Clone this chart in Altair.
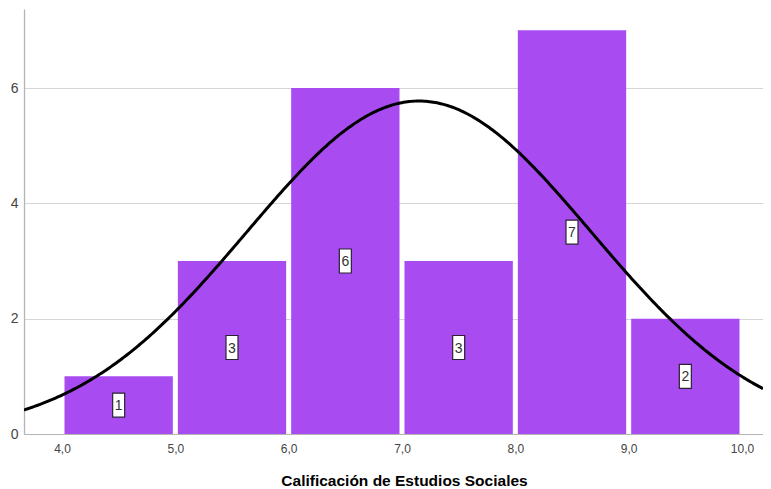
import altair as alt
import pandas as pd
import numpy as np

# Histogram bins and counts
bin_start = [4.0, 5.0, 6.0, 7.0, 8.0, 9.0]
bin_end = [5.0, 6.0, 7.0, 8.0, 9.0, 10.0]
counts = [1, 3, 6, 3, 7, 2]

# Axis tick values
x_ticks = [4, 5, 6, 7, 8, 9, 10]
y_ticks = [0, 2, 4, 6]

# Fitted normal curve parameters
n_total = 22
bin_width = 1.0
curve_mean = 7.15
curve_sd = 1.52

x_min, x_max = 3.6647, 10.1853
y_max = 7.37

bars_df = pd.DataFrame({
    "start": bin_start,
    "end": bin_end,
    "count": counts,
})
bars_df["mid"] = (bars_df["start"] + bars_df["end"]) / 2
bars_df["half"] = bars_df["count"] / 2
bars_df["label"] = bars_df["count"].astype(str)

xs = np.linspace(x_min, x_max, 400)
ys = n_total * bin_width / (curve_sd * np.sqrt(2 * np.pi)) * np.exp(-0.5 * ((xs - curve_mean) / curve_sd) ** 2)
curve_df = pd.DataFrame({"x": xs, "y": ys})

xscale = alt.Scale(domain=[x_min, x_max], nice=False, zero=False)
yscale = alt.Scale(domain=[0, y_max], nice=False, zero=True)

x_axis = alt.Axis(
    values=x_ticks,
    labelExpr="replace(format(datum.value, '.1f'), '.', ',')",
    ticks=False, tickSize=0, grid=False,
    labelFont="Liberation Sans", labelFontSize=12, labelColor="#444444",
    labelPadding=9,
    domainColor="#b5b5b5", domainWidth=1,
    title="Calificación de Estudios Sociales",
    titleFont="Liberation Sans", titleFontSize=15.5, titleFontWeight="bold",
    titleColor="#000000", titleAlign="center", titleBaseline="alphabetic",
    titleX=380, titleY=51,
)
y_axis = alt.Axis(
    values=y_ticks,
    labelExpr="format(datum.value, 'd')",
    ticks=False, tickSize=0,
    grid=True, gridColor="#d6d6d6", gridWidth=1,
    labelFont="Liberation Sans", labelFontSize=14, labelColor="#444444",
    labelPadding=6,
    domainColor="#b5b5b5", domainWidth=1.3,
    title=None,
)

base = alt.Chart(bars_df)

bars = base.mark_bar(color="#a84cf2", xOffset=2.5, x2Offset=-2.5).encode(
    x=alt.X("start:Q", scale=xscale, axis=x_axis),
    x2="end:Q",
    y=alt.Y("count:Q", scale=yscale, axis=y_axis),
    y2=alt.datum(0),
)

curve = alt.Chart(curve_df).mark_line(color="#000000", strokeWidth=3, clip=True).encode(
    x=alt.X("x:Q", scale=xscale),
    y=alt.Y("y:Q", scale=yscale),
)

boxes = base.mark_point(
    shape="M-0.5,-1H0.5V1H-0.5Z", size=576, filled=True,
    fill="#ffffff", stroke="#2a2233", strokeWidth=1.2, opacity=1,
).encode(
    x=alt.X("mid:Q", scale=xscale),
    y=alt.Y("half:Q", scale=yscale),
)

labels = base.mark_text(
    font="Liberation Sans", fontSize=14, color="#333333",
    align="center", baseline="middle", dy=1,
).encode(
    x=alt.X("mid:Q", scale=xscale),
    y=alt.Y("half:Q", scale=yscale),
    text="label:N",
)

chart = alt.layer(bars, curve, boxes, labels).properties(
    width=739, height=425,
    autosize="none",
    padding={"left": 16, "top": 1, "right": 0, "bottom": 54},
).configure_view(stroke=None)

chart.save("out.html", embed_options={"renderer": "svg", "actions": False})
